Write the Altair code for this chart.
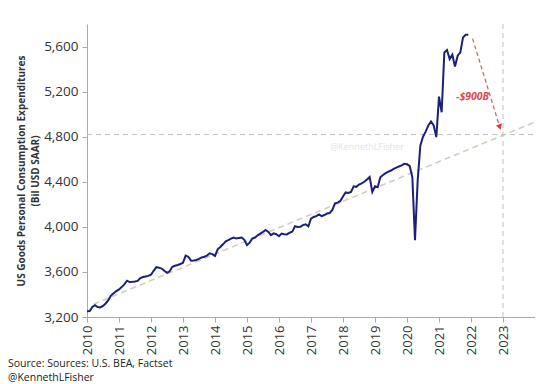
import altair as alt
import pandas as pd

years = list(range(2010, 2022))
values = [
    # 2010
    3250, 3252, 3290, 3305, 3288, 3285, 3298, 3320, 3350, 3390, 3410, 3430,
    # 2011
    3445, 3465, 3490, 3522, 3510, 3512, 3515, 3520, 3545, 3555, 3560, 3565,
    # 2012
    3575, 3610, 3642, 3638, 3630, 3610, 3592, 3605, 3645, 3655, 3662, 3670,
    # 2013
    3682, 3745, 3735, 3700, 3702, 3706, 3715, 3728, 3735, 3745, 3765, 3758,
    # 2014
    3742, 3800, 3822, 3845, 3872, 3882, 3895, 3905, 3896, 3902, 3905, 3885,
    # 2015
    3838, 3860, 3896, 3905, 3925, 3940, 3955, 3972, 3955, 3926, 3942, 3935,
    # 2016
    3917, 3940, 3935, 3933, 3948, 3958, 4005, 3998, 4000, 4015, 4023, 4005,
    # 2017
    4072, 4088, 4095, 4110, 4095, 4105, 4118, 4122, 4150, 4208, 4215, 4230,
    # 2018
    4270, 4305, 4300, 4310, 4360, 4355, 4375, 4385, 4400, 4420, 4442, 4310,
    # 2019
    4360, 4352, 4440, 4460, 4477, 4490, 4500, 4515, 4525, 4536, 4545, 4560,
    # 2020
    4555, 4540, 4440, 3881, 4410, 4720, 4800, 4845, 4900, 4935, 4900, 4796,
    # 2021
    5156, 5017, 5548, 5569, 5489, 5528, 5422, 5519, 5548, 5681, 5704, 5704,
]
dates = [y + m / 12 for y in years for m in range(12)]

trend_x = [2010.2, 2024.0]
trend_y = [3313, 4930]
ref_level = 4820
ref_year = 2023
arrow_x = [2022.05, 2022.9]
arrow_y = [5670, 4885]
gap_label = "-$900B"
label_x, label_y = 2022.05, 5150
watermark = "@KennethLFisher"
wm_x, wm_y = 2018.75, 4705
tick_years = list(range(2010, 2024))
y_ticks = [3200, 3600, 4000, 4400, 4800, 5200, 5600]
source_lines = ["Source: Sources: U.S. BEA, Factset", "@KennethLFisher"]

FONT = "Open Sans"
xs = alt.Scale(domain=[2010, 2024], nice=False, zero=False)
ys = alt.Scale(domain=[3200, 5800], nice=False, zero=False)

xaxis = alt.Axis(values=tick_years, format="d", labelAngle=270, labelAlign="right",
                 labelBaseline="middle", grid=False, title=None, labelFontSize=13,
                 labelColor="#333333", domainColor="#aaaaaa", tickColor="#aaaaaa",
                 labelFont=FONT, labelPadding=3, tickSize=5)
yaxis = alt.Axis(values=y_ticks, format=",d", grid=False, labelFontSize=13.5,
                 labelColor="#333333", domainColor="#aaaaaa", tickColor="#aaaaaa",
                 labelFont=FONT, tickSize=5, labelPadding=4,
                 title=["US Goods Personal Consumption Expenditures", "(Bil USD SAAR)"],
                 titleFont=FONT, titleFontSize=10, titleFontWeight="bold",
                 titleColor="#333333", titlePadding=3, titleLineHeight=14)

X = alt.X("x:Q", scale=xs, axis=xaxis)
Y = alt.Y("y:Q", scale=ys, axis=yaxis)

df = pd.DataFrame({"x": dates, "y": values})
trend_df = pd.DataFrame({"x": trend_x, "y": trend_y})
arrow_df = pd.DataFrame({"x": arrow_x, "y": arrow_y})

trend = alt.Chart(trend_df).mark_line(color="#d0d0c0", strokeDash=[6, 4], strokeWidth=1.6).encode(
    x=X, y=Y)

hrule = alt.Chart(pd.DataFrame({"y": [ref_level]})).mark_rule(
    color="#c0c0c0", strokeDash=[5, 4], strokeWidth=1).encode(
    y=Y, x=alt.value(0), x2=alt.value(448))

vrule = alt.Chart(pd.DataFrame({"x": [ref_year]})).mark_rule(
    color="#c0c0c0", strokeDash=[5, 4], strokeWidth=1).encode(
    x=X, y=alt.value(0), y2=alt.value(293))

wm = alt.Chart(pd.DataFrame({"x": [wm_x], "y": [wm_y], "t": [watermark]})).mark_text(
    font=FONT, fontSize=9, color="#e4e4e4").encode(x=X, y=Y, text="t:N")

line = alt.Chart(df).mark_line(color="#1c1f7c", strokeWidth=2).encode(x=X, y=Y)

arrow = alt.Chart(arrow_df).mark_line(color="#e36060", strokeDash=[4, 3], strokeWidth=1.3).encode(
    x=X, y=Y)

head = alt.Chart(pd.DataFrame({"x": [arrow_x[1]], "y": [arrow_y[1]]})).mark_point(
    shape="triangle-down", filled=True, color="#e03a3a", size=40, angle=342, opacity=1).encode(
    x=X, y=Y)

lbl = alt.Chart(pd.DataFrame({"x": [label_x], "y": [label_y], "t": [gap_label]})).mark_text(
    font=FONT, fontSize=10.5, fontWeight="bold", fontStyle="italic", color="#e04848").encode(
    x=X, y=Y, text="t:N")

src1 = alt.Chart(pd.DataFrame({"t": [source_lines[0]]})).mark_text(
    font=FONT, fontSize=10.5, color="#222222", align="left", baseline="middle").encode(
    text="t:N", x=alt.value(-79), y=alt.value(340))
src2 = alt.Chart(pd.DataFrame({"t": [source_lines[1]]})).mark_text(
    font=FONT, fontSize=10.5, color="#222222", align="left", baseline="middle").encode(
    text="t:N", x=alt.value(-79), y=alt.value(353.5))

chart = alt.layer(trend, hrule, vrule, wm, line, arrow, head, lbl, src1, src2).properties(
    width=448, height=293,
    autosize=alt.AutoSizeParams(type="none"),
    padding={"left": 79, "top": 16, "right": 0, "bottom": 70},
).configure_view(stroke=None)

chart.save("out.html", embed_options={"renderer": "svg", "actions": False})
